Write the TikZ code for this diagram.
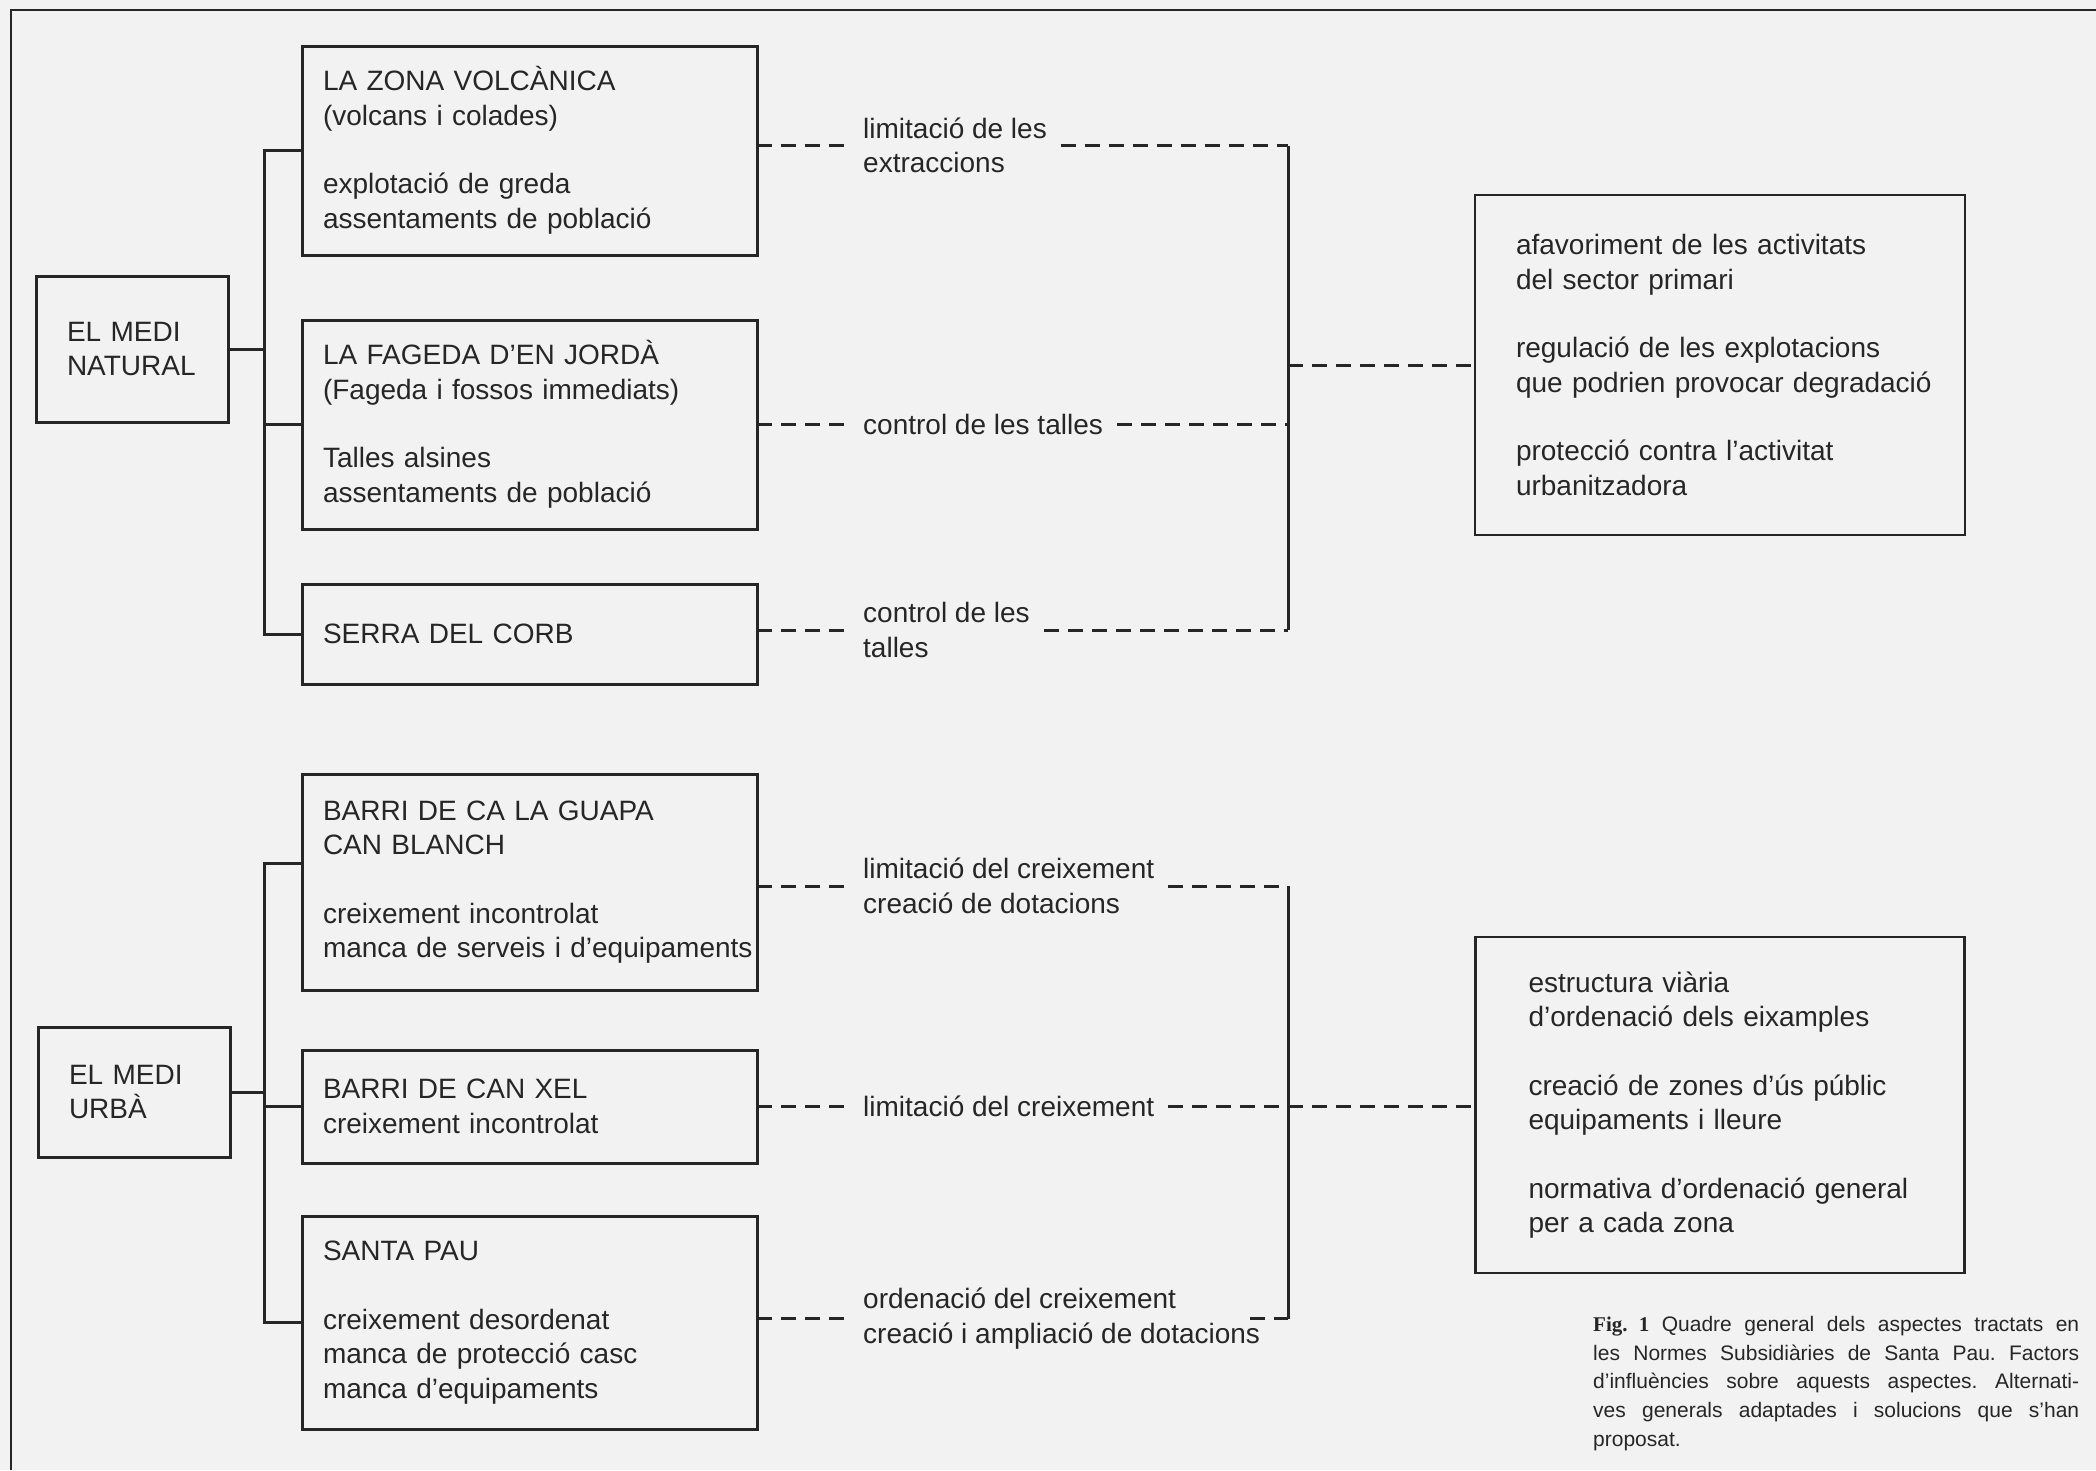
\documentclass[tikz,border=0pt]{standalone}
\usepackage{fontspec}
\setmainfont{Liberation Sans}
\newfontfamily\figfont{Liberation Serif}
\usetikzlibrary{positioning}

\begin{document}
\begin{tikzpicture}[
  x=1pt, y=-1pt,
  color=black!85,
  font=\fontsize{28}{34.5}\selectfont,  % one picture pixel = 1pt
  lbox/.style={draw, line width=3pt, outer sep=0pt, inner xsep=21pt, text width=413pt, align=left},
  mbox/.style={draw, line width=3pt, outer sep=0pt, inner xsep=31pt, text width=130pt, align=left},
  rbox/.style={draw, line width=2.5pt, outer sep=0pt, inner xsep=41pt, text width=408pt, align=left},
  lab/.style={inner xsep=14pt, inner ysep=0pt, align=left},
  tree/.style={line width=3pt},
  dashln/.style={line width=3pt, dash pattern=on 15pt off 9pt},
  frame/.style={line width=2pt}
]
  \path[use as bounding box, fill=black!5] (0,0) rectangle (2096,1470);
  \draw[frame] (11,1470) -- (11,10) -- (2096,10);

  \node[mbox, minimum height=146pt, anchor=north west] (natural) at (36,276) {EL MEDI\\NATURAL};
  \node[mbox, minimum height=130pt, anchor=north west] (urba) at (38,1027) {EL MEDI\\URBÀ};

  \node[lbox, minimum height=209pt, anchor=north west] (volc) at (302,46) {LA ZONA VOLCÀNICA\\(volcans i colades)\\[34pt]explotació de greda\\assentaments de població};
  \node[lbox, minimum height=209pt, below=65pt of volc] (fageda) {LA FAGEDA D’EN JORDÀ\\(Fageda i fossos immediats)\\[34pt]Talles alsines\\assentaments de població};
  \node[lbox, minimum height=100pt, below=55pt of fageda] (serra) {SERRA DEL CORB};
  \node[lbox, minimum height=216pt, below=90pt of serra] (guapa) {BARRI DE CA LA GUAPA\\CAN BLANCH\\[34pt]creixement incontrolat\\\mbox{manca de serveis i d’equipaments}};
  \node[lbox, minimum height=113pt, below=60pt of guapa] (xel) {BARRI DE CAN XEL\\creixement incontrolat};
  \node[lbox, minimum height=213pt, below=53pt of xel] (santa) {SANTA PAU\\[34pt]creixement desordenat\\manca de protecció casc\\manca d’equipaments};

  \node[rbox, minimum height=340pt, anchor=north west] (prim) at (1475,195) {afavoriment de les activitats\\del sector primari\\[34pt]regulació de les explotacions\\\mbox{que podrien provocar degradació}\\[34pt]protecció contra l’activitat\\urbanitzadora};
  \node[rbox, inner xsep=53pt, text width=383pt, minimum height=336pt, below=402pt of prim] (urbs) {estructura viària\\d’ordenació dels eixamples\\[34pt]creació de zones d’ús públic\\equipaments i lleure\\[34pt]\mbox{normativa d’ordenació general}\\per a cada zona};

  \node[lab, right=92pt of volc, yshift=5pt] (lim1) {limitació de les\\extraccions};
  \node[lab, right=92pt of fageda] (ctl1) {control de les talles};
  \node[lab, right=92pt of serra, yshift=4pt] (ctl2) {control de les\\talles};
  \node[lab, right=92pt of guapa, yshift=-4pt] (lim2) {limitació del creixement\\creació de dotacions};
  \node[lab, right=92pt of xel] (lim3) {limitació del creixement};
  \node[lab, right=92pt of santa, yshift=4pt] (ord) {ordenació del creixement\\creació i ampliació de dotacions};

  \node[anchor=north west, inner sep=0pt, text width=486pt, align=justify, font=\fontsize{21}{28.7}\selectfont] (cap) at (1593,1316) {\tolerance=10000 \frenchspacing {\figfont\bfseries Fig.~1} Quadre general dels aspectes tractats en\linebreak les Normes Subsidiàries de Santa Pau. Factors\linebreak d’influències sobre aquests aspectes. Alternati-\linebreak ves generals adaptades i solucions que s’han\linebreak proposat.};

  % trees on the left
  \coordinate (trunk) at (264,0);
  \coordinate (gjoin) at ([yshift=19pt]guapa.west);
  \draw[tree] (volc.west) -- (volc.west -| trunk) -- (serra.west -| trunk) -- (serra.west);
  \draw[tree] (fageda.west) -- (fageda.west -| trunk);
  \draw[tree] (natural.east) -- (natural.east -| trunk);
  \draw[tree] (gjoin) -- (gjoin -| trunk) -- (santa.west -| trunk) -- (santa.west);
  \draw[tree] (xel.west) -- (xel.west -| trunk);
  \draw[tree] (urba.east) -- (urba.east -| trunk);

  % dashed links
  \coordinate (bx) at (1288,0);
  \foreach \b/\l in {volc/lim1, fageda/ctl1, serra/ctl2, guapa/lim2, xel/lim3, santa/ord}
    \draw[dashln] (\l.west -| \b.east) -- (\l.west);
  \draw[dashln] (lim1.east) -- (lim1.east -| bx);
  \draw[dashln] (ctl1.east) -- (ctl1.east -| bx);
  \draw[dashln] (ctl2.east) -- (ctl2.east -| bx);
  \draw[tree] (lim1.east -| bx) -- (ctl2.east -| bx);
  \draw[dashln] (prim.west -| bx) -- (prim.west);
  \draw[dashln] (lim2.east) -- (lim2.east -| bx);
  \draw[dashln] (lim3.east) -- (lim3.east -| urbs.west);
  \draw[dashln] ([xshift=-24pt]ord.east) -- (ord.east -| bx);
  \draw[tree] (lim2.east -| bx) -- (ord.east -| bx);
\end{tikzpicture}
\end{document}
